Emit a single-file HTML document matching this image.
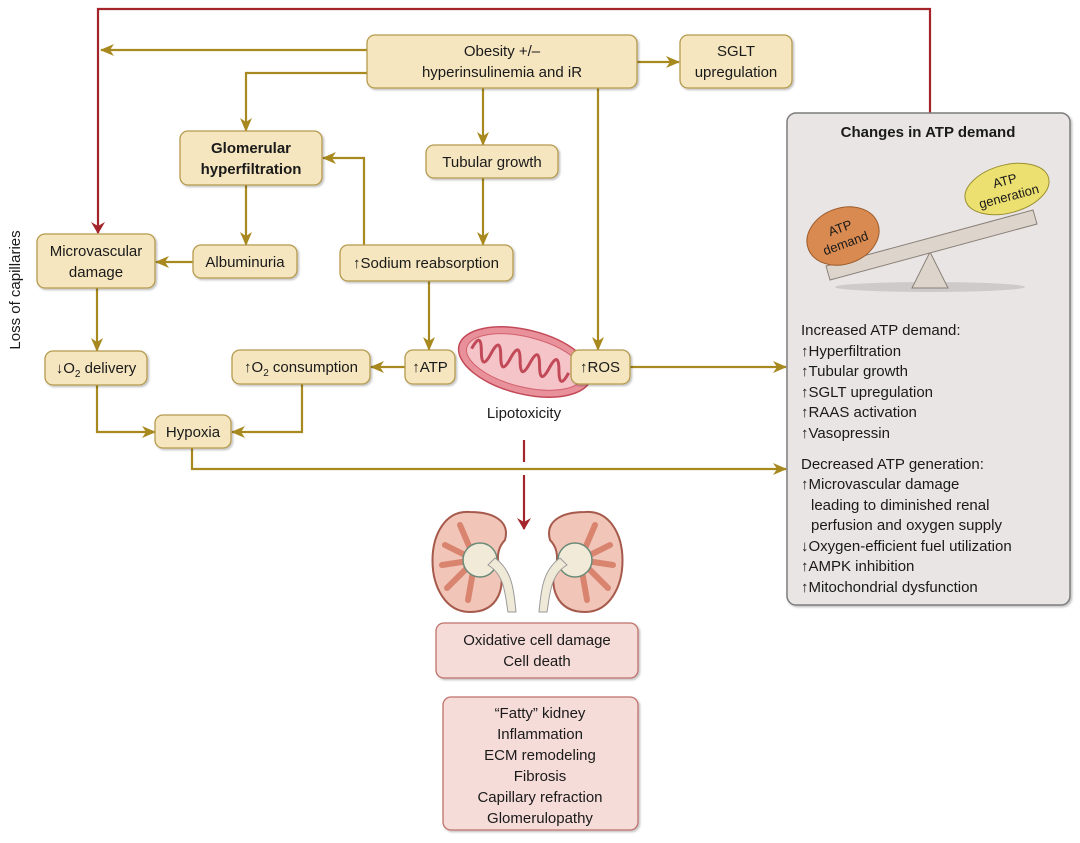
<!DOCTYPE html>
<html><head><meta charset="utf-8"><style>
body{margin:0;background:#fff}
svg{display:block}
text{font-family:"Liberation Sans",sans-serif;font-size:15px;fill:#1a1a1a}
</style></head><body>
<svg width="1080" height="843" viewBox="0 0 1080 843">
<defs>
<marker id="g" markerWidth="14" markerHeight="12" refX="13" refY="6" orient="auto" markerUnits="userSpaceOnUse"><path d="M0,0 L14,6 L0,12 L4,6 z" fill="#a8891f"/></marker>
<marker id="r" markerWidth="12" markerHeight="14" refX="11" refY="7" orient="auto" markerUnits="userSpaceOnUse"><path d="M0,0 L12,7 L0,14 L4,7 z" fill="#a3242b"/></marker>
<filter id="sh"><feDropShadow dx="1.5" dy="1.5" stdDeviation="1" flood-color="#000" flood-opacity="0.25"/></filter>
</defs>
<polyline points="930,113 930,9 98,9 98,233" fill="none" stroke="#a3242b" stroke-width="2.2" marker-end="url(#r)"/>
<line x1="524" y1="440" x2="524" y2="462" stroke="#a3242b" stroke-width="2.2"/>
<line x1="524" y1="475" x2="524" y2="529" stroke="#a3242b" stroke-width="2.2" marker-end="url(#r)"/>
<g fill="none" stroke="#a8891f" stroke-width="2.2">
<line x1="367" y1="50" x2="101" y2="50" marker-end="url(#g)"/>
<polyline points="367,73 246,73 246,131" marker-end="url(#g)"/>
<line x1="483" y1="88" x2="483" y2="145" marker-end="url(#g)"/>
<line x1="637" y1="62" x2="679" y2="62" marker-end="url(#g)"/>
<line x1="598" y1="88" x2="598" y2="350" marker-end="url(#g)"/>
<line x1="246" y1="185" x2="246" y2="245" marker-end="url(#g)"/>
<line x1="193" y1="262" x2="156" y2="262" marker-end="url(#g)"/>
<polyline points="364,245 364,158 323,158" marker-end="url(#g)"/>
<line x1="483" y1="178" x2="483" y2="245" marker-end="url(#g)"/>
<line x1="429" y1="281" x2="429" y2="350" marker-end="url(#g)"/>
<line x1="405" y1="367" x2="371" y2="367" marker-end="url(#g)"/>
<line x1="630" y1="367" x2="786" y2="367" marker-end="url(#g)"/>
<line x1="97" y1="288" x2="97" y2="351" marker-end="url(#g)"/>
<polyline points="97,385 97,432 155,432" marker-end="url(#g)"/>
<polyline points="302,384 302,432 232,432" marker-end="url(#g)"/>
<polyline points="192,448 192,469 786,469" marker-end="url(#g)"/>
</g>
<g fill="#f5e6bf" stroke="#b59a4e" stroke-width="1.3" filter="url(#sh)">
<rect x="367" y="35" width="270" height="53" rx="8"/>
<rect x="680" y="35" width="112" height="53" rx="8"/>
<rect x="180" y="131" width="142" height="54" rx="8"/>
<rect x="426" y="145" width="132" height="33" rx="8"/>
<rect x="37" y="234" width="118" height="54" rx="8"/>
<rect x="193" y="245" width="104" height="33" rx="8"/>
<rect x="340" y="245" width="173" height="36" rx="8"/>
<rect x="45" y="351" width="102" height="34" rx="8"/>
<rect x="232" y="350" width="138" height="34" rx="8"/>
<rect x="155" y="415" width="76" height="33" rx="8"/>
</g>
<g transform="translate(525,362) rotate(14)">
<ellipse cx="0" cy="0" rx="68" ry="32" fill="#e9919a" stroke="#c24a58" stroke-width="1.5"/>
<ellipse cx="0" cy="0" rx="60" ry="25" fill="#f4c4c8" stroke="#d2606d" stroke-width="1"/>
<path d="M-55,0 q5,-20 10,0 t10,0 t10,0 t10,0 t10,0 t10,0 t10,0 t10,0 t10,0 t10,0" fill="none" stroke="#c24a58" stroke-width="3"/>
</g>
<g fill="#f5e6bf" stroke="#b59a4e" stroke-width="1.3" filter="url(#sh)">
<rect x="405" y="350" width="50" height="34" rx="8"/>
<rect x="571" y="350" width="59" height="34" rx="8"/>
</g>
<g>
<path d="M470,512 C420,508 420,612 470,612 C500,612 505,585 500,568 C495,555 500,545 505,540 C510,522 495,512 470,512z" fill="#f1c5b8" stroke="#a65a4c" stroke-width="2"/>
<path d="M585,512 C635,508 635,612 585,612 C555,612 550,585 555,568 C560,555 555,545 550,540 C545,522 560,512 585,512z" fill="#f1c5b8" stroke="#a65a4c" stroke-width="2"/>
<g stroke="#d9846f" stroke-width="6" stroke-linecap="round">
<line x1="475" y1="560" x2="445" y2="545"/><line x1="475" y1="560" x2="442" y2="565"/><line x1="475" y1="560" x2="447" y2="588"/><line x1="475" y1="560" x2="468" y2="600"/><line x1="475" y1="560" x2="460" y2="525"/>
<line x1="580" y1="560" x2="610" y2="545"/><line x1="580" y1="560" x2="613" y2="565"/><line x1="580" y1="560" x2="608" y2="588"/><line x1="580" y1="560" x2="587" y2="600"/><line x1="580" y1="560" x2="595" y2="525"/>
</g>
<circle cx="480" cy="560" r="17" fill="#f2ead8" stroke="#6a8a78" stroke-width="1.5"/>
<circle cx="575" cy="560" r="17" fill="#f2ead8" stroke="#6a8a78" stroke-width="1.5"/>
<path d="M488,565 C505,575 505,595 508,612 L516,612 C514,590 512,570 495,558z" fill="#efe9d8" stroke="#999"/>
<path d="M567,565 C550,575 550,595 547,612 L539,612 C541,590 543,570 560,558z" fill="#efe9d8" stroke="#999"/>
</g>
<g fill="#f5dcd8" stroke="#c0716a" stroke-width="1.3" filter="url(#sh)">
<rect x="436" y="623" width="202" height="55" rx="8"/>
<rect x="443" y="697" width="195" height="133" rx="8"/>
</g>
<rect x="787" y="113" width="283" height="492" rx="9" fill="#e9e5e5" stroke="#7d7b7b" stroke-width="1.5" filter="url(#sh)"/>
<ellipse cx="930" cy="287" rx="95" ry="5" fill="#cfcaca"/>
<polygon points="930,252 912,288 948,288" fill="#ddd5cc" stroke="#8a8078"/>
<polygon points="826,266 1033,210 1037,224 830,280" fill="#ddd5cc" stroke="#8a8078"/>
<ellipse cx="843" cy="236" rx="37" ry="28" transform="rotate(-20 843 236)" fill="#d98a50" stroke="#9a5a2a"/>
<ellipse cx="1007" cy="189" rx="43" ry="24" transform="rotate(-15 1007 189)" fill="#ece070" stroke="#9a9030"/>
<text x="843" y="232" text-anchor="middle" transform="rotate(-20 843 236)" style="font-size:13px">ATP</text>
<text x="843" y="248" text-anchor="middle" transform="rotate(-20 843 236)" style="font-size:13px">demand</text>
<text x="1007" y="185" text-anchor="middle" transform="rotate(-15 1007 189)" style="font-size:13px">ATP</text>
<text x="1007" y="201" text-anchor="middle" transform="rotate(-15 1007 189)" style="font-size:13px">generation</text>
<g text-anchor="middle">
<text x="502" y="56">Obesity +/–</text>
<text x="502" y="77">hyperinsulinemia and iR</text>
<text x="736" y="56">SGLT</text>
<text x="736" y="77">upregulation</text>
<text x="251" y="153" style="font-weight:bold">Glomerular</text>
<text x="251" y="174" style="font-weight:bold">hyperfiltration</text>
<text x="492" y="167">Tubular growth</text>
<text x="96" y="256">Microvascular</text>
<text x="96" y="277">damage</text>
<text x="245" y="267">Albuminuria</text>
<text x="426" y="268">↑Sodium reabsorption</text>
<text x="96" y="373">↓O<tspan dy="4" style="font-size:10px">2</tspan><tspan dy="-4"> delivery</tspan></text>
<text x="301" y="372">↑O<tspan dy="4" style="font-size:10px">2</tspan><tspan dy="-4"> consumption</tspan></text>
<text x="430" y="372">↑ATP</text>
<text x="600" y="372">↑ROS</text>
<text x="193" y="437">Hypoxia</text>
<text x="524" y="418">Lipotoxicity</text>
<text x="537" y="645">Oxidative cell damage</text>
<text x="537" y="666">Cell death</text>
<text x="540" y="718">“Fatty” kidney</text>
<text x="540" y="739">Inflammation</text>
<text x="540" y="760">ECM remodeling</text>
<text x="540" y="781">Fibrosis</text>
<text x="540" y="802">Capillary refraction</text>
<text x="540" y="823">Glomerulopathy</text>
<text x="928" y="137" style="font-weight:bold">Changes in ATP demand</text>
</g>
<text x="20" y="290" text-anchor="middle" transform="rotate(-90 20 290)">Loss of capillaries</text>
<g>
<text x="801" y="335">Increased ATP demand:</text>
<text x="801" y="356">↑Hyperfiltration</text>
<text x="801" y="376">↑Tubular growth</text>
<text x="801" y="397">↑SGLT upregulation</text>
<text x="801" y="417">↑RAAS activation</text>
<text x="801" y="438">↑Vasopressin</text>
<text x="801" y="469">Decreased ATP generation:</text>
<text x="801" y="489">↑Microvascular damage</text>
<text x="811" y="510">leading to diminished renal</text>
<text x="811" y="530">perfusion and oxygen supply</text>
<text x="801" y="551">↓Oxygen-efficient fuel utilization</text>
<text x="801" y="571">↑AMPK inhibition</text>
<text x="801" y="592">↑Mitochondrial dysfunction</text>
</g>
</svg>
</body></html>
